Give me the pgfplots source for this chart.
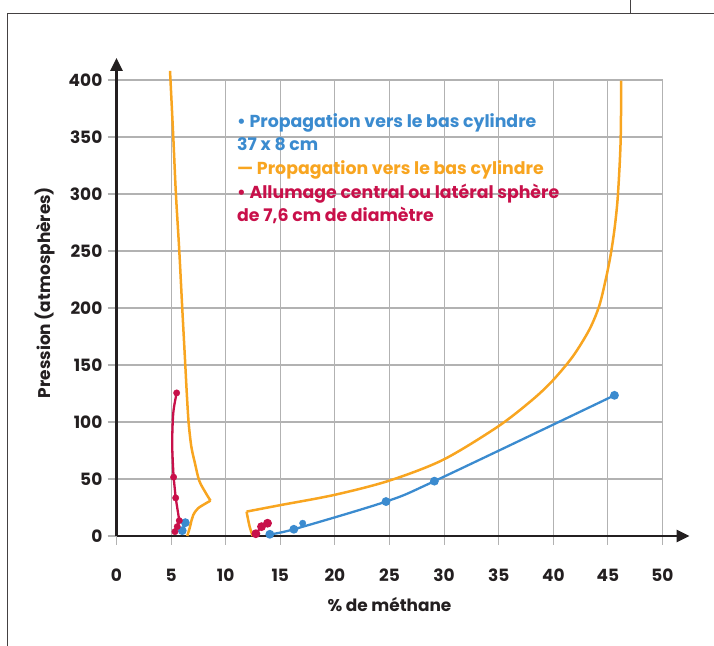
\documentclass[border=0pt]{standalone}
\usepackage{fontspec}
\setmainfont{Poppins}
\usepackage{pgfplots}
\pgfplotsset{compat=1.18}
\usetikzlibrary{arrows.meta}

\definecolor{cblue}{HTML}{3B8BCF}
\definecolor{corange}{HTML}{F8A520}
\definecolor{cred}{HTML}{C8104A}
\definecolor{gridgray}{HTML}{B2B2B2}
\definecolor{axisdark}{HTML}{231F20}

\newcommand{\lbl}{\bfseries\fontsize{17}{17}\selectfont}
\newcommand{\keyfont}{\bfseries\fontsize{17.4}{17.4}\selectfont}

\begin{document}
\begin{tikzpicture}[x=1bp,y=1bp]
\useasboundingbox (0,0) rectangle (714,646);
% page frame
\draw[axisdark!85, line width=1bp] (7,0) -- (7,632) -- (714,632);
\draw[axisdark!85, line width=1bp] (630.5,632) -- (630.5,646);

\begin{axis}[
  at={(116.5bp,110bp)}, anchor=origin,
  scale only axis, width=546bp, height=456bp,
  xmin=0, xmax=50, ymin=0, ymax=400,
  xtick={0,5,...,50}, ytick={0,50,...,400},
  grid=major, grid style={gridgray, line width=1.1bp},
  axis lines*=left,
  axis line style={axisdark, line width=2.6bp},
  x axis line style={-{Triangle[width=12bp,length=13bp]}, shorten >=-27bp},
  y axis line style={-{Triangle[width=12bp,length=13bp]}, shorten >=-22bp},
  tick align=outside, major tick length=9bp,
  tick style={gridgray, line width=1.1bp},
  /pgf/number format/assume math mode=true,
  ticklabel style={font=\lbl, text=axisdark},
  xticklabel style={anchor=base, inner sep=0pt, yshift=-37bp},
  yticklabel style={anchor=east, inner sep=0pt, xshift=-5bp},
  xlabel={\% de méthane},
  ylabel={Pression (atmosphères)},
  label style={font=\lbl, text=axisdark},
  xlabel style={at={(axis description cs:0.5,-0.151)}, anchor=center},
  ylabel style={at={(axis description cs:-0.130,0.534)}, anchor=center, rotate=0},
  clip=false,
]
% downward propagation, cylinder (orange envelope, left branch)
\addplot[corange, line width=2.5bp, smooth, tension=0.5] coordinates {
  (4.9,408) (5.2,350) (5.44,300) (5.75,250) (6.02,200) (6.3,150)
  (6.42,128) (6.6,100) (6.85,78.5) (7.18,64) (7.58,48.4) (8.19,37.5) (8.61,31)
};
\addplot[corange, line width=2.5bp, smooth, tension=0.5] coordinates {
  (8.61,31) (7.48,24.4) (7.03,18.5) (6.88,14) (6.70,7) (6.48,0)
};
% right branch
\addplot[corange, line width=2.5bp, smooth, tension=0.5] coordinates {
  (12.46,0) (12.2,8) (12.06,14) (11.91,21.4)
};
\addplot[corange, line width=2.5bp, smooth, tension=0.5] coordinates {
  (11.91,21.4) (14.96,27) (19.93,36) (24.93,48.4) (29.9,66.8) (34.93,96)
  (38.1,119.6) (39.96,136.5) (41.8,157.7) (43.3,181) (44.2,201.7)
  (44.8,225) (45.24,246) (45.6,269) (45.9,297) (46.16,345) (46.22,399.5)
};

% downward propagation, cylinder 37 x 8 cm (blue)
\addplot[cblue, line width=2.3bp, smooth, mark=*, mark size=3.2bp] coordinates {
  (14.04,1.5) (16.24,5.9) (24.68,30.2) (29.11,48.1) (45.6,123.4)
};
\addplot[cblue, line width=2.3bp, mark=*, mark size=3.2bp] coordinates {
  (6.02,4.7) (6.3,11.7)
};
\addplot[cblue, only marks, mark=*, mark size=3.2bp] coordinates {
  (17.05,11.2)
};

% central or side ignition, 7.6 cm sphere (red)
\addplot[cred, line width=2.3bp] coordinates {
  (5.35,3.8) (5.56,8.2) (5.75,13.5) (5.42,33.4) (5.23,51.6)
};
\addplot[cred, line width=2.3bp, smooth] coordinates {
  (5.23,51.6) (5.1,80) (5.2,108) (5.51,125.5)
};
\addplot[cred, only marks, mark=*, mark size=3.2bp] coordinates {
  (5.35,3.8) (5.56,8.2) (5.75,13.5) (5.42,33.4) (5.23,51.6) (5.51,125.5)
};
\addplot[cred, line width=2.3bp, mark=*, mark size=3.2bp] coordinates {
  (12.76,2) (13.28,8.2) (13.83,11.2)
};
\end{axis}

% key
\begin{scope}[every node/.style={anchor=base west, inner sep=0pt, font=\keyfont}]
\node[text=cblue]   at (237,518.5) {• Propagation vers le bas cylindre};
\node[text=cblue]   at (237,495)   {37 x 8 cm};
\node[text=corange] at (237,471)   {— Propagation vers le bas cylindre};
\node[text=cred]    at (237,447)   {• Allumage central ou latéral sphère};
\node[text=cred]    at (237,424)   {de 7,6 cm de diamètre};
\end{scope}
\end{tikzpicture}
\end{document}
